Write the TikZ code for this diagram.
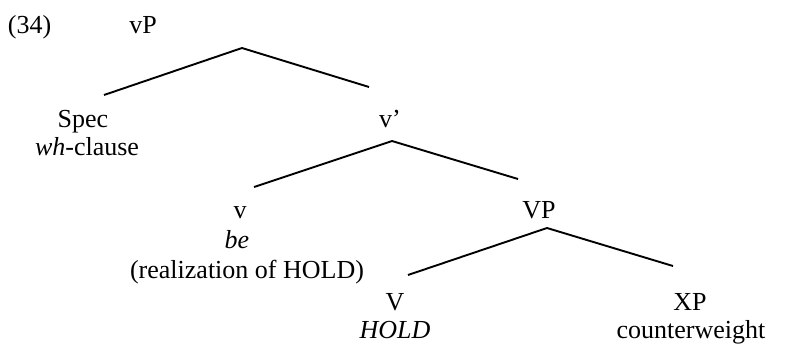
\documentclass[tikz,border=0pt]{standalone}
\usepackage{fontspec}
\setmainfont{Liberation Serif}
\begin{document}
\begin{tikzpicture}[x=1pt,y=-1pt,
  lab/.style={inner sep=0pt,outer sep=0pt,anchor=base,font=\fontsize{26}{29}\selectfont},
  branch/.style={line width=1.9pt,line join=miter}]
\useasboundingbox (0,0) rectangle (790,343);
% labels
\node[lab,anchor=base west] (num) at (8,33) {(34)};
\node[lab] (vP) at (143,33) {vP};
\node[lab] (spec) at (83,127) {Spec};
\node[lab] (wh) at (87,155) {\textit{wh}-clause};
\node[lab] (vbar) at (390,127) {v’};
\node[lab] (v) at (240,218) {v};
\node[lab] (be) at (237,248) {\textit{be}};
\node[lab] (real) at (247,278) {(realization of HOLD)};
\node[lab] (VP) at (539,218) {VP};
\node[lab] (V) at (395,310) {V};
\node[lab] (hold) at (395,338) {\textit{HOLD}};
\node[lab] (XP) at (690,310) {XP};
\node[lab] (cw) at (691,338) {counterweight};
% branch points
\coordinate (a1) at (242,48);
\coordinate (l1) at (104,95);
\coordinate (r1) at (369,87);
\coordinate (a2) at (392,141);
\coordinate (l2) at (254,187);
\coordinate (r2) at (518,179);
\coordinate (a3) at (547,228);
\coordinate (l3) at (408,275);
\coordinate (r3) at (673,266);
\draw[branch] (l1) -- (a1) -- (r1);
\draw[branch] (l2) -- (a2) -- (r2);
\draw[branch] (l3) -- (a3) -- (r3);
\end{tikzpicture}
\end{document}
